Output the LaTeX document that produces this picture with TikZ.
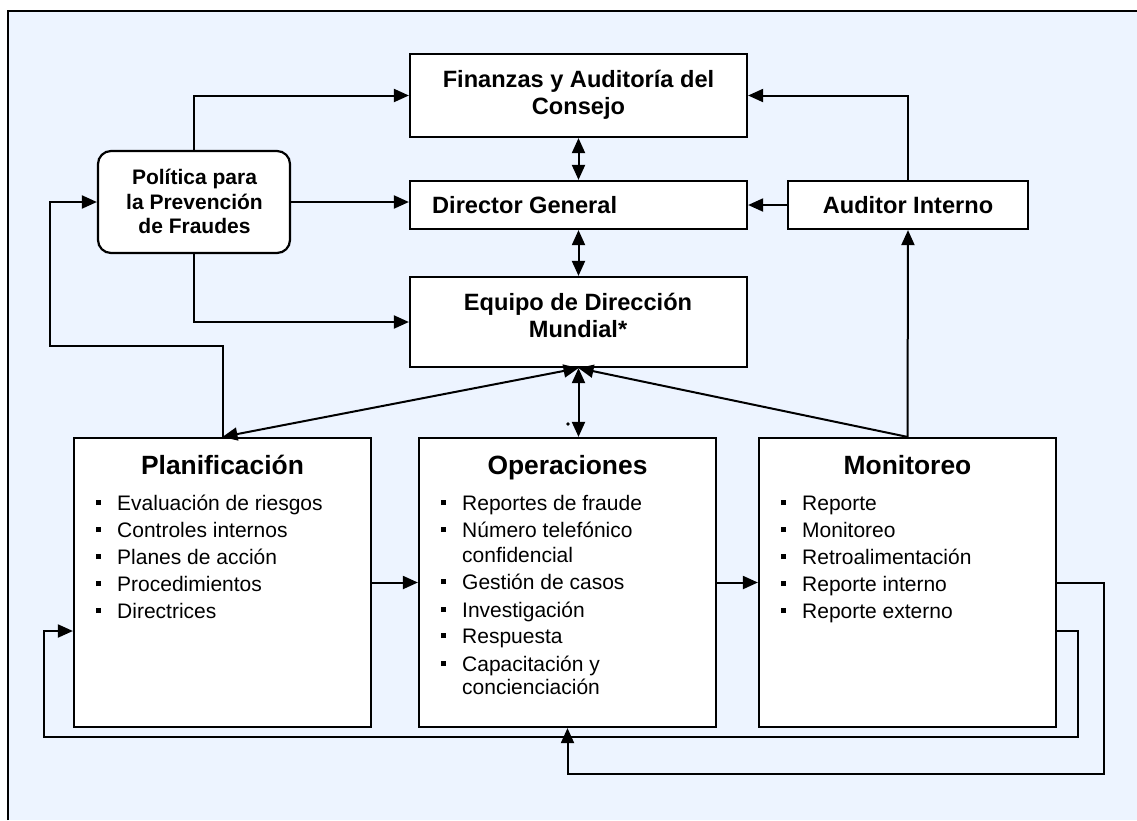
\documentclass[tikz,border=0pt]{standalone}
\usepackage{fontspec}
\setmainfont{Liberation Sans}
\usetikzlibrary{arrows.meta}
\definecolor{fondo}{RGB}{237,244,255}
\newcommand{\punto}{\makebox[21pt][l]{\rule[5pt]{4.6pt}{4.6pt}}}

\begin{document}
\begin{tikzpicture}[x=1pt,y=-1pt,
  caja/.style={draw,fill=white,line width=2.2pt,inner sep=0pt},
  flecha/.style={line width=2pt,-{Triangle[length=15pt,width=13pt]}},
  doble/.style={line width=2pt,{Triangle[length=15pt,width=13pt]}-{Triangle[length=15pt,width=13pt]}},
  titulo/.style={inner sep=0pt,anchor=base,font=\bfseries\fontsize{23.6}{27}\selectfont},
  cabeza/.style={inner sep=0pt,anchor=base,font=\bfseries\fontsize{26.4}{30}\selectfont},
  item/.style={inner sep=0pt,anchor=base west,font=\fontsize{21}{25}\selectfont}]

\useasboundingbox (0,0) rectangle (1137,820);
\fill[fondo] (7,10) rectangle (1137,820);
\draw[line width=2.4pt] (8,820) -- (8,11) -- (1137,11);

% cajas de arriba
\node[caja,minimum width=337pt,minimum height=83pt] (fin) at (578.5,95.5) {};
\node[caja,minimum width=337pt,minimum height=48pt] (dir) at (578.5,205) {};
\node[caja,minimum width=337pt,minimum height=90pt] (eq) at (578.5,322) {};
\node[caja,minimum width=240pt,minimum height=48pt] (aud) at (908,205) {};
\node[caja,rounded corners=13pt,minimum width=192pt,minimum height=102pt] (pol) at (194,202) {};

% cajas de abajo
\node[caja,minimum width=297pt,minimum height=289pt] (plan) at (222.5,582.5) {};
\node[caja,minimum width=297pt,minimum height=289pt] (ops) at (567.5,582.5) {};
\node[caja,minimum width=297pt,minimum height=289pt] (mon) at (907.5,582.5) {};

\coordinate (c1) at (50,346);
\coordinate (c2) at (1104,774);
\coordinate (c3) at (1078,737);
\coordinate (c4) at (44,631);

\draw[flecha] (pol.north) |- (fin.west);
\draw[flecha] (pol.east) -- (pol.east -| dir.west);
\draw[flecha] (pol.south) |- (eq.west);
\draw[flecha] (plan.north) |- (c1) |- (pol.west);
\draw[doble] (fin.south) -- (dir.north);
\draw[doble] (dir.south) -- (eq.north);
\draw[flecha] (aud.north) |- (fin.east);
\draw[flecha] (aud.west) -- (dir.east);
\draw[flecha] (mon.north) -- (aud.south);
\draw[doble] (eq.south) -- (plan.north);
\draw[doble] (eq.south) -- (eq.south |- ops.north);
\draw[flecha] (mon.north) -- (eq.south);
\draw[flecha] (plan.east) -- (ops.west);
\draw[flecha] (ops.east) -- (mon.west);
\draw[flecha] (mon.east) -| (c2) -| (ops.south);
\draw[flecha] (mon.east |- c4) -| (c3) -| (c4) -- (plan.west |- c4);
\fill (568,424) circle (1.8pt);

% textos
\node[titulo] (fin1) at (578.5,87) {Finanzas y Auditoría del};
\node[titulo] (fin2) at (578.5,114) {Consejo};
\node[titulo,anchor=base west] (dirt) at (432,213) {Director General};
\node[titulo] (audt) at (908,213) {Auditor Interno};
\node[titulo] (eq1) at (578,310) {Equipo de Dirección};
\node[titulo] (eq2) at (578,337) {Mundial*};
\node[titulo,font=\bfseries\fontsize{21}{25}\selectfont] (pol1) at (194.5,184) {Política para};
\node[titulo,font=\bfseries\fontsize{21}{25}\selectfont] (pol2) at (194.5,209) {la Prevención};
\node[titulo,font=\bfseries\fontsize{21}{25}\selectfont] (pol3) at (194.5,233) {de Fraudes};

\node[cabeza] (plt) at (222.5,474) {Planificación};
\node[cabeza] (opt) at (567.5,474) {Operaciones};
\node[cabeza] (mot) at (907.5,474) {Monitoreo};

\node[item] (pl1) at (96,510) {\punto Evaluación de riesgos};
\node[item] (pl2) at (96,537) {\punto Controles internos};
\node[item] (pl3) at (96,564) {\punto Planes de acción};
\node[item] (pl4) at (96,591) {\punto Procedimientos};
\node[item] (pl5) at (96,618) {\punto Directrices};

\node[item] (op1) at (441,510) {\punto Reportes de fraude};
\node[item] (op2) at (441,537) {\punto Número telefónico};
\node[item] (op3) at (441,562) {\hspace*{21pt}confidencial};
\node[item] (op4) at (441,589) {\punto Gestión de casos};
\node[item] (op5) at (441,617) {\punto Investigación};
\node[item] (op6) at (441,643) {\punto Respuesta};
\node[item] (op7) at (441,671) {\punto Capacitación y};
\node[item] (op8) at (441,694) {\hspace*{21pt}concienciación};

\node[item] (mo1) at (781,510) {\punto Reporte};
\node[item] (mo2) at (781,537) {\punto Monitoreo};
\node[item] (mo3) at (781,564) {\punto Retroalimentación};
\node[item] (mo4) at (781,591) {\punto Reporte interno};
\node[item] (mo5) at (781,618) {\punto Reporte externo};
\end{tikzpicture}
\end{document}
